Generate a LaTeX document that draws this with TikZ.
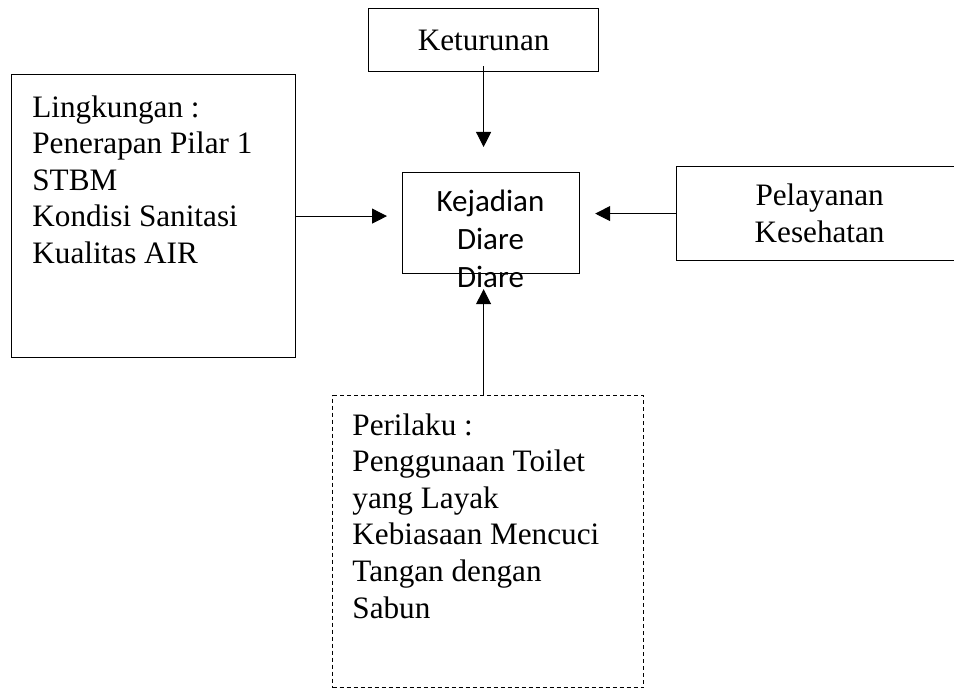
\documentclass[tikz,border=0pt]{standalone}
\usepackage{fontspec}
\setmainfont{Liberation Serif}
\newfontfamily\calibri{Carlito}
\usetikzlibrary{arrows.meta}

\tikzset{
  box/.style={draw,line width=0.6pt,inner sep=0pt,anchor=north west},
  dashbox/.style={box,dash pattern=on 2pt off 1.5pt},
  boxtext/.style={inner sep=0pt,anchor=north west,align=left,font=\fontsize{15.6pt}{18.3pt}\selectfont},
  arrow/.style={line width=0.5pt,-{Triangle[length=7.5pt,width=7.5pt]}}
}

\begin{document}
\begin{tikzpicture}[x=0.5pt,y=-0.5pt]
\clip (0,0) rectangle (954,688);
% boxes
\node[box,minimum width=115pt,minimum height=31.5pt,font=\fontsize{15.6pt}{18.3pt}\selectfont] (ketu) at (368,8) {Keturunan};
\node[box,minimum width=142pt,minimum height=141.5pt] (ling) at (11,74) {};
\node[boxtext] (lingtext) at (32,95) {Lingkungan :\\Penerapan Pilar 1\\STBM\\Kondisi Sanitasi\\Kualitas AIR};
\node[box,minimum width=88.5pt,minimum height=50.5pt] (kej) at (402,172) {};
\node[inner sep=0pt,anchor=north,align=center,font=\calibri\fontsize{15.5pt}{18.8pt}\selectfont] (kejtext) at (490.5,190) {Kejadian\\Diare\\Diare};
\node[box,minimum width=143pt,minimum height=47pt,align=center,font=\fontsize{15.6pt}{18.3pt}\selectfont] (pel) at (676,166) {Pelayanan\\Kesehatan};
\node[dashbox,minimum width=155.5pt,minimum height=146pt] (per) at (332,395) {};
\node[boxtext] (pertext) at (352,413) {Perilaku :\\Penggunaan Toilet\\yang Layak\\Kebiasaan Mencuci\\Tangan dengan\\Sabun};
% arrows
\draw[arrow,shorten <=-3pt,shorten >=12.5pt] (ketu.south) -- (ketu.south |- kej.north);
\draw[arrow,shorten >=7.5pt] (ling.east) -- (ling.east -| kej.west);
\draw[arrow,shorten >=7.5pt] (pel.west) -- (pel.west -| kej.east);
\draw[arrow,shorten >=7.5pt] (per.north -| ketu.south) -- (ketu.south |- kej.south);
\end{tikzpicture}
\end{document}
